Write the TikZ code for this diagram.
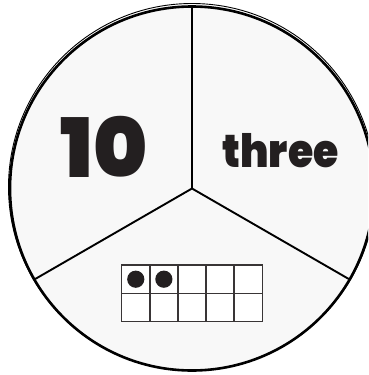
\documentclass[tikz,border=0pt]{standalone}
\usepackage{fontspec}
\usetikzlibrary{calc}
\newfontfamily\headfont{Poppins Black}
\definecolor{ink}{HTML}{231F20}
\definecolor{paper}{HTML}{F8F8F8}
\tikzset{
  rim/.style={draw=black, line width=2.6pt},
  spoke/.style={draw=black, line width=1.9pt},
  cellbox/.style={draw=ink!90, line width=1.4pt, fill=white},
  counter/.style={fill=ink, draw=none},
  bigtext/.style={text=ink, inner sep=0pt}
}
\begin{document}
\begin{tikzpicture}[x=1pt,y=-1pt]
\useasboundingbox (0,0) rectangle (368,375);
\clip (0,0) rectangle (368,375);
\coordinate (c) at (192,188.5);
\fill[paper] (c) circle (182);
\draw[black, line width=0.9pt] (192,187) circle (183.5);
\draw[rim] (c) circle (182);
\coordinate (top) at ($(c)+(0,-181)$);
\coordinate (bl) at ($(c)+(-156.8,90.5)$);
\coordinate (br) at ($(c)+(156.8,90.5)$);
\draw[spoke] (c) -- (top);
\draw[spoke] (c) -- (bl);
\draw[spoke] (c) -- (br);
\foreach \i in {0,...,4}{
  \foreach \j in {0,1}{
    \draw[cellbox] ({121.7+28.12*\i},{265+28.35*\j}) rectangle ++(28.12,28.35);
  }
}
\fill[counter] ({121.7+14.06},{265+14.2}) circle (8.6);
\fill[counter] ({121.7+28.12+14.06},{265+14.2}) circle (8.6);
\node[bigtext, font=\headfont\fontsize{82}{82}\selectfont, anchor=base] (ten) at (104.5,177) {10};
\node[bigtext, font=\headfont\fontsize{46}{46}\selectfont, anchor=base] (word) at (280.5,167) {\scalebox{0.89}[1]{three}};
\end{tikzpicture}
\end{document}
